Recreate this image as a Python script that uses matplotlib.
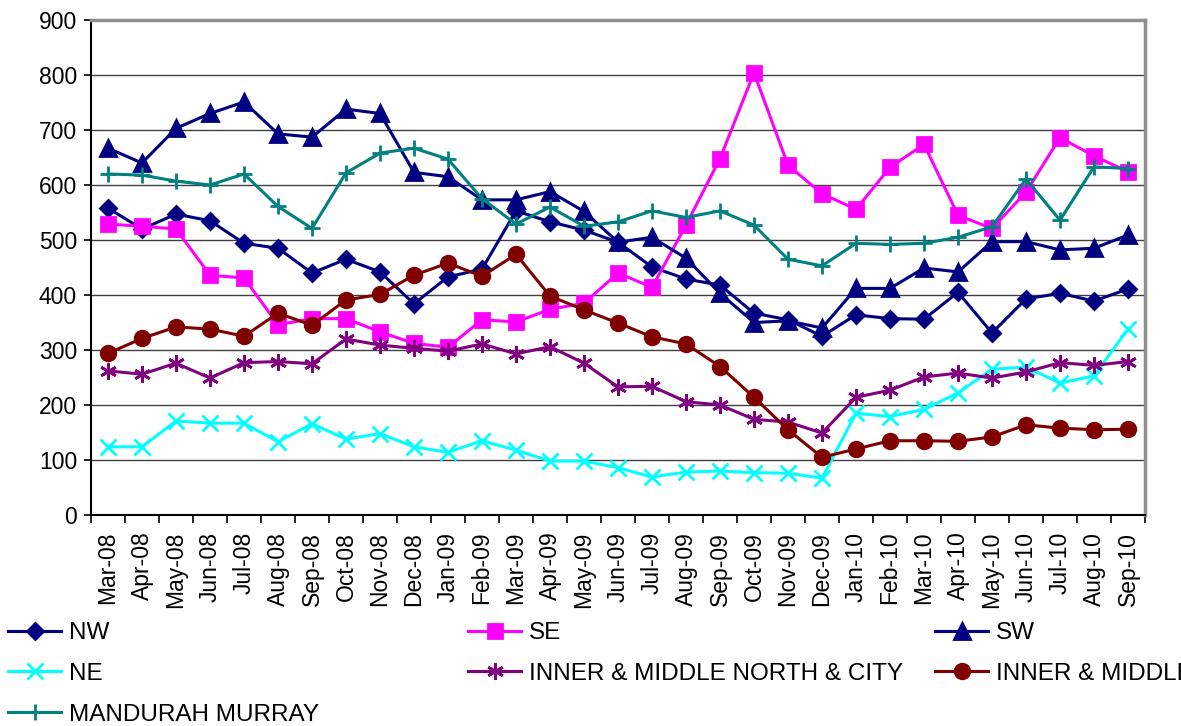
import matplotlib
matplotlib.use("Agg")
import matplotlib.pyplot as plt
import numpy as np

plt.rcParams['font.family'] = ['Liberation Sans', 'DejaVu Sans']

months = ["Mar-08", "Apr-08", "May-08", "Jun-08", "Jul-08", "Aug-08", "Sep-08", "Oct-08",
          "Nov-08", "Dec-08", "Jan-09", "Feb-09", "Mar-09", "Apr-09", "May-09", "Jun-09",
          "Jul-09", "Aug-09", "Sep-09", "Oct-09", "Nov-09", "Dec-09", "Jan-10", "Feb-10",
          "Mar-10", "Apr-10", "May-10", "Jun-10", "Jul-10", "Aug-10", "Sep-10"]

nw = [558, 520, 547, 535, 494, 485, 440, 465, 442, 384, 433, 447, 553, 533, 518, 496,
      451, 429, 418, 367, 355, 325, 364, 357, 356, 405, 331, 393, 403, 389, 411]
se = [529, 525, 520, 436, 431, 346, 357, 357, 333, 312, 305, 355, 351, 374, 385, 440,
      414, 527, 648, 804, 636, 584, 556, 632, 674, 545, 521, 587, 686, 653, 624]
sw = [667, 640, 703, 730, 751, 693, 687, 738, 730, 623, 615, 573, 573, 588, 552, 496,
      505, 467, 403, 350, 353, 340, 412, 412, 449, 442, 497, 497, 482, 485, 509]
ne = [124, 124, 171, 167, 167, 133, 166, 138, 148, 124, 114, 135, 118, 98, 98, 86,
      69, 78, 80, 77, 76, 67, 185, 179, 192, 222, 265, 269, 240, 253, 338]
inner_north = [262, 256, 276, 249, 277, 279, 275, 320, 309, 303, 298, 311, 293, 306, 276, 233,
               234, 206, 200, 174, 169, 149, 214, 227, 251, 258, 249, 260, 277, 272, 279]
inner_south = [294, 321, 342, 338, 325, 367, 345, 391, 401, 436, 458, 434, 474, 398, 373, 349,
               324, 311, 270, 214, 155, 105, 120, 135, 135, 134, 142, 164, 158, 155, 156]
mandurah = [620, 618, 607, 600, 620, 561, 521, 622, 658, 667, 647, 575, 529, 560, 525, 533,
            553, 541, 553, 527, 465, 453, 494, 492, 494, 505, 524, 611, 536, 633, 630]

series_names = ["NW", "SE", "SW", "NE", "INNER & MIDDLE NORTH & CITY",
                "INNER & MIDDLE SOUTH", "MANDURAH MURRAY"]
series_values = [nw, se, sw, ne, inner_north, inner_south, mandurah]
colors = ["#000080", "#FF00FF", "#000080", "#00FFFF", "#800080", "#800000", "#008080"]
markers = ["D", "s", "^", "x", (6, 2, 0), "o", "+"]
msizes = [8.5, 10.5, 11.5, 11, 12, 10.5, 12]

W, H = 1181, 726
fig = plt.figure(figsize=(W / 100, H / 100), dpi=100)
ax = fig.add_axes([91 / W, 1 - 515 / H, (1145 - 91) / W, (515 - 20) / H])

x = np.arange(len(months))
handles = []
for name, vals, c, m, ms in zip(series_names, series_values, colors, markers, msizes):
    h, = ax.plot(x, vals, color=c, marker=m, markersize=ms, linewidth=2.2,
                 markerfacecolor=c, markeredgecolor=c, markeredgewidth=2.0,
                 label=name, clip_on=False)
    handles.append(h)

ax.set_xlim(-0.5, len(months) - 0.5)
ax.set_ylim(0, 900)
ax.set_yticks(np.arange(0, 901, 100))
ax.yaxis.grid(True, color="#404040", linewidth=1.0)
ax.set_axisbelow(True)
ax.tick_params(axis='y', labelsize=16.5, length=5, width=1.2, direction='out', pad=5)

ax.set_xticks(np.arange(-0.5, len(months), 1.0))
ax.set_xticklabels([])
ax.tick_params(axis='x', which='major', length=6, width=1.2, direction='out')
ax.set_xticks(x, minor=True)
ax.set_xticklabels(months, minor=True, rotation=90, fontsize=16.5)
ax.tick_params(axis='x', which='minor', length=0, pad=12)

for s in ['left', 'bottom']:
    ax.spines[s].set_color('black')
    ax.spines[s].set_linewidth(1.5)
for s in ['top', 'right']:
    ax.spines[s].set_color('#909090')
    ax.spines[s].set_linewidth(2.5)

columns = [([0, 3, 6], 8), ([1, 4], 468), ([2, 5], 935)]
for idx, xpx in columns:
    fig.legend([handles[i] for i in idx], [series_names[i] for i in idx],
               loc='upper left', bbox_to_anchor=(xpx / W, 1 - 622 / H),
               frameon=False, fontsize=17.5, handlelength=2.2,
               handletextpad=0.3, labelspacing=0.78, borderaxespad=0.0, borderpad=0.0)

fig.savefig("out.png", dpi=100)
